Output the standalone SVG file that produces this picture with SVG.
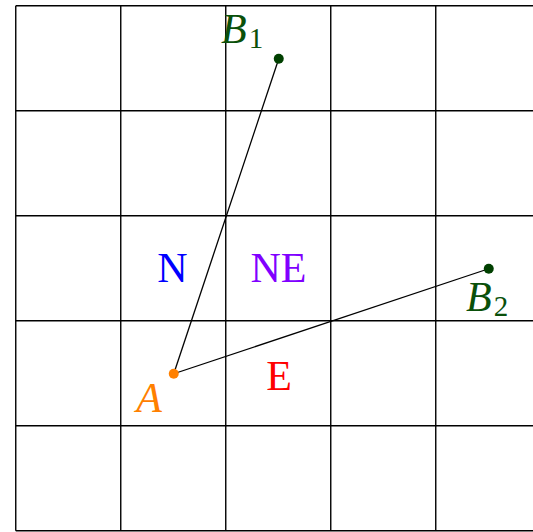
<svg xmlns="http://www.w3.org/2000/svg" width="533" height="532" viewBox="0 0 533 532">
<style>
.grid line{stroke:#000;stroke-width:1.4}
.conn line{stroke:#000;stroke-width:1.3}
text{font-family:"Liberation Serif","DejaVu Serif",serif;font-size:42px}
.it{font-style:italic}
.sub{font-size:29px;font-style:normal}
.g{fill:#0a500a}
</style>
<rect width="533" height="532" fill="#fff"/>
<g id="grid" class="grid">
<line x1="15.75" y1="5.75" x2="533" y2="5.75"/>
<line x1="15.75" y1="110.75" x2="533" y2="110.75"/>
<line x1="15.75" y1="215.75" x2="533" y2="215.75"/>
<line x1="15.75" y1="320.75" x2="533" y2="320.75"/>
<line x1="15.75" y1="425.75" x2="533" y2="425.75"/>
<line x1="15.75" y1="530.75" x2="533" y2="530.75"/>
<line x1="15.75" y1="5.75" x2="15.75" y2="530.75"/>
<line x1="120.75" y1="5.75" x2="120.75" y2="530.75"/>
<line x1="225.75" y1="5.75" x2="225.75" y2="530.75"/>
<line x1="330.75" y1="5.75" x2="330.75" y2="530.75"/>
<line x1="435.75" y1="5.75" x2="435.75" y2="530.75"/>
</g>
<g id="connectors" class="conn">
<line x1="173.75" y1="373.75" x2="278.75" y2="58.75"/>
<line x1="173.75" y1="373.75" x2="488.75" y2="268.75"/>
</g>
<g id="A">
<circle cx="173.75" cy="373.75" r="5" fill="#ff8000"/>
<text x="149" y="412" text-anchor="middle" class="it" fill="#ff8000">A</text>
</g>
<g id="B1">
<circle cx="278.75" cy="58.75" r="5" fill="#004000"/>
<text x="221" y="43" class="g"><tspan class="it">B</tspan><tspan class="sub" dx="2" dy="5">1</tspan></text>
</g>
<g id="B2">
<circle cx="488.75" cy="268.75" r="5" fill="#004000"/>
<text x="466" y="311" class="g"><tspan class="it">B</tspan><tspan class="sub" dx="2" dy="5">2</tspan></text>
</g>
<g id="N"><text x="172.5" y="282" text-anchor="middle" fill="#0000ff">N</text></g>
<g id="NE"><text x="278.5" y="282" text-anchor="middle" fill="#8000ff">NE</text></g>
<g id="E"><text x="279" y="390" text-anchor="middle" fill="#ff0000">E</text></g>
</svg>
